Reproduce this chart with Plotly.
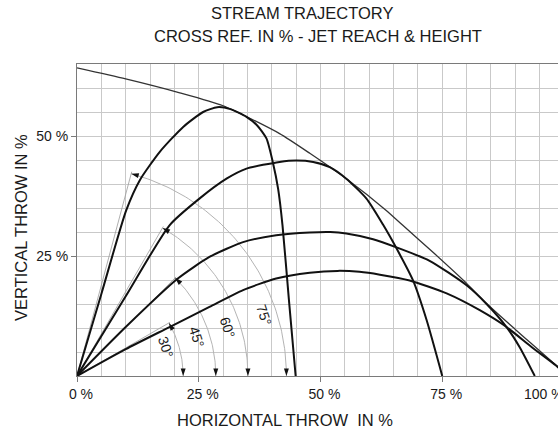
import numpy as np
import plotly.graph_objects as go

# ---------------- data ----------------
angles = [30, 45, 60, 75]
angle_labels = ["30°", "45°", "60°", "75°"]
arc_radius = [21.8, 28.5, 35.1, 43.0]          # % of horizontal throw where each angle arc meets the axis

env_x = [0, 10, 21.1, 30.0, 41.6, 47.8, 55.3, 63.5, 66.9, 73.5, 80.0, 84.1, 90.0, 98.7, 100.6]
env_y = [64.2, 61.9, 59.0, 56.3, 50.5, 46.4, 41.1, 34.5, 31.4, 25.4, 19.3, 15.1, 9.7, 1.9, 0]

t75_x = [0, 5.0, 10.1, 12.9, 17.0, 21.8, 25.9, 28.8, 31.5, 34.8, 37.0, 38.9, 40.2, 41.3, 42.2, 43.5, 44.9]
t75_y = [0, 17.1, 34.5, 40.8, 46.7, 51.9, 55.0, 56.0, 55.6, 54.0, 52.2, 49.5, 44.6, 39.0, 31.4, 16.0, 0]

t60_x = [0, 10.0, 19.0, 25.2, 30.7, 34.8, 41.6, 45.0, 48.5, 51.9, 55.3, 59.4, 62.8, 65.6, 69.0, 71.8, 75.0]
t60_y = [0, 16.6, 31.4, 37.0, 41.1, 43.2, 44.6, 44.9, 44.6, 43.5, 41.1, 37.0, 31.6, 26.6, 19.9, 11.6, 0]

t45_x = [0, 10.0, 20.7, 27.2, 34.1, 40.9, 47.8, 52.0, 55.3, 60.8, 65.6, 72.4, 80.0, 84.1, 88.2, 90.9, 94.0]
t45_y = [0, 10.2, 20.3, 24.8, 27.9, 29.3, 29.9, 30.0, 29.7, 28.5, 26.8, 24.0, 18.9, 15.0, 10.2, 6.0, 0]

t30_x = [0, 10.0, 19.0, 27.2, 34.1, 40.9, 47.8, 53.5, 58.0, 62.2, 68.3, 75.9, 82.7, 88.2, 93.4, 98.7, 100.6]
t30_y = [0, 5.6, 10.2, 14.4, 17.9, 20.3, 21.5, 21.9, 21.7, 21.1, 19.9, 17.2, 13.7, 10.2, 6.0, 1.9, 0]

x_tickvals = [0, 25, 50, 75]
x_ticktext = ["0 %", "25 %", "50 %", "75 %"]
last_x_tick = 100
last_x_text = "100 %"
y_tickvals = [25, 50]
y_ticktext = ["25 %", "50 %"]

title_1 = "STREAM TRAJECTORY"
title_2 = "CROSS REF. IN % - JET REACH & HEIGHT"
x_title = "HORIZONTAL THROW\u00a0 IN %"
y_title = "VERTICAL THROW IN %"

# ---------------- layout geometry ----------------
FIG_W, FIG_H = 558, 429
L, T, B, R = 77, 64, 53, 0
PW = FIG_W - L - R
PH = FIG_H - T - B
PX_PER_X = 4.87                     # pixels per % horizontally
X_MAX = PW / PX_PER_X
Y_MAX = 65
PX_PER_Y = PH / Y_MAX
KY = PX_PER_X / PX_PER_Y            # keeps arcs circular on screen

FONT = "Liberation Sans, Arial, Helvetica, sans-serif"
TXT = "#1a1a1a"


def paper_x(px):
    return (px - L) / PW


def paper_y(py):
    return (T + PH - py) / PH


fig = go.Figure()

# angle guide lines and arcs
for ang, r in zip(angles, arc_radius):
    th = np.radians(ang)
    rr = np.array([0, r * 1.01])
    fig.add_trace(go.Scatter(x=rr * np.cos(th), y=rr * np.sin(th) * KY, mode="lines",
                             line=dict(color="#9a9a9a", width=0.8), hoverinfo="skip", showlegend=False))
    a = np.radians(np.linspace(ang, 0, 80))
    fig.add_trace(go.Scatter(x=r * np.cos(a), y=r * np.sin(a) * KY, mode="lines",
                             line=dict(color="#b4b4b4", width=1), hoverinfo="skip", showlegend=False))

# envelope
fig.add_trace(go.Scatter(x=env_x, y=env_y, mode="lines",
                         line=dict(color="#333333", width=1.3, shape="spline", smoothing=0.6),
                         hoverinfo="skip", showlegend=False))

# trajectories
for tx, ty in [(t75_x, t75_y), (t60_x, t60_y), (t45_x, t45_y), (t30_x, t30_y)]:
    fig.add_trace(go.Scatter(x=tx, y=ty, mode="lines",
                             line=dict(color="#111111", width=2, shape="spline", smoothing=0.6),
                             hoverinfo="skip", showlegend=False))

# arrowheads on arcs
sx, sy, sa, ex, ey = [], [], [], [], []
for ang, r in zip(angles, arc_radius):
    th = np.radians(ang)
    sx.append(r * np.cos(th))
    sy.append(r * np.sin(th) * KY)
    sa.append(-ang)
    ex.append(r)
    ey.append(0)
fig.add_trace(go.Scatter(x=sx + ex, y=sy + ey, mode="markers", cliponaxis=False,
                         marker=dict(symbol="arrow", size=8, color="#111111", angle=sa + [180] * len(ex),
                                     line=dict(width=0)),
                         hoverinfo="skip", showlegend=False))

annotations = []
# angle labels (inside each arc, along the arc)
LABEL_IN_PX = 13
LABEL_ANG = 18
for lab, r in zip(angle_labels, arc_radius):
    rl = r - LABEL_IN_PX / PX_PER_X
    a = np.radians(LABEL_ANG)
    annotations.append(dict(x=rl * np.cos(a), y=rl * np.sin(a) * KY, xref="x", yref="y", text=lab,
                            showarrow=False, textangle=90 - LABEL_ANG,
                            font=dict(family=FONT, size=14, color=TXT)))

# last x tick label (partly cut off at the right edge)
annotations.append(dict(x=last_x_tick / X_MAX, y=0, xref="paper", yref="paper", text=last_x_text,
                        showarrow=False, xanchor="right", yanchor="top", yshift=-8, xshift=2,
                        font=dict(family=FONT, size=14, color=TXT)))

# titles
annotations.append(dict(x=paper_x(302), y=paper_y(13), xref="paper", yref="paper", text=title_1,
                        showarrow=False, xanchor="center", yanchor="middle",
                        font=dict(family=FONT, size=16.5, color=TXT)))
annotations.append(dict(x=paper_x(318), y=paper_y(36), xref="paper", yref="paper", text=title_2,
                        showarrow=False, xanchor="center", yanchor="middle",
                        font=dict(family=FONT, size=16.5, color=TXT)))
annotations.append(dict(x=paper_x(285), y=paper_y(420), xref="paper", yref="paper", text=x_title,
                        showarrow=False, xanchor="center", yanchor="middle",
                        font=dict(family=FONT, size=16.5, color=TXT)))
annotations.append(dict(x=paper_x(21), y=paper_y(228), xref="paper", yref="paper", text=y_title,
                        showarrow=False, xanchor="center", yanchor="middle", textangle=-90,
                        font=dict(family=FONT, size=16.5, color=TXT)))

GRID = "#c9c9c9"
AXIS = "#7a7a7a"
fig.update_layout(
    width=FIG_W, height=FIG_H, autosize=False,
    margin=dict(l=L, r=R, t=T, b=B, pad=0, autoexpand=False),
    paper_bgcolor="white", plot_bgcolor="white",
    annotations=annotations,
    xaxis=dict(range=[0, X_MAX], tickvals=x_tickvals, ticktext=x_ticktext, ticks="outside", ticklen=5,
               tickcolor=AXIS, showline=True, linecolor=AXIS, linewidth=1, mirror=True,
               showgrid=True, gridcolor=GRID, gridwidth=1, zeroline=False, ticklabelshift=4,
               minor=dict(dtick=5, tick0=0, showgrid=True, gridcolor=GRID, gridwidth=1, ticks=""),
               tickfont=dict(family=FONT, size=14, color=TXT), fixedrange=True, automargin=False),
    yaxis=dict(range=[0, Y_MAX], tickvals=y_tickvals, ticktext=y_ticktext, ticks="outside", ticklen=5,
               tickcolor=AXIS, showline=True, linecolor=AXIS, linewidth=1,
               showgrid=True, gridcolor=GRID, gridwidth=1, zeroline=False,
               minor=dict(dtick=5, tick0=0, showgrid=True, gridcolor=GRID, gridwidth=1, ticks=""),
               tickfont=dict(family=FONT, size=14, color=TXT), fixedrange=True, automargin=False),
)

fig.write_html("out.html", config={"displayModeBar": False},
               post_script="document.body.style.margin='0px';document.body.style.overflow='hidden';")
